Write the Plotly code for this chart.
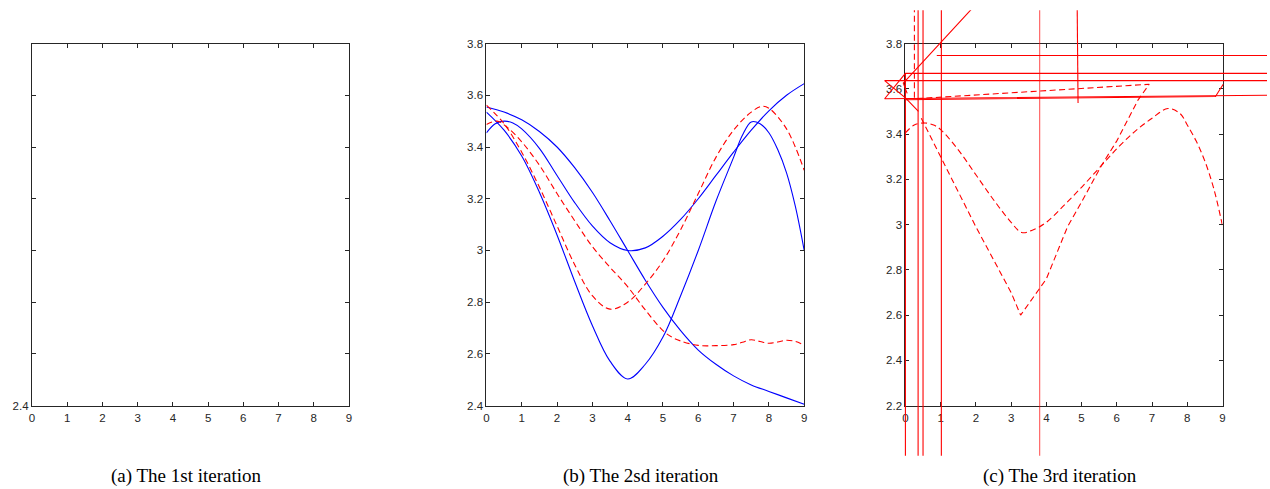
import plotly.graph_objects as go

# ---------------- data ----------------
x_ticks = [0, 1, 2, 3, 4, 5, 6, 7, 8, 9]
a_y_ticks = [2.4, 2.6, 2.8, 3.0, 3.2, 3.4, 3.6, 3.8]
a_y_labels = ["2.4", "", "", "", "", "", "", ""]
b_y_ticks = [2.4, 2.6, 2.8, 3.0, 3.2, 3.4, 3.6, 3.8]
b_y_labels = ["2.4", "2.6", "2.8", "3", "3.2", "3.4", "3.6", "3.8"]
c_y_ticks = [2.2, 2.4, 2.6, 2.8, 3.0, 3.2, 3.4, 3.6, 3.8]
c_y_labels = ["2.2", "2.4", "2.6", "2.8", "3", "3.2", "3.4", "3.6", "3.8"]
captions = ["(a) The 1st iteration", "(b) The 2sd iteration", "(c) The 3rd iteration"]

# panel (b) blue solid curves
b_blue1_x = [0, 0.5, 1, 1.5, 2, 2.5, 3, 3.5, 4, 4.5, 5, 5.5, 6, 6.5, 7, 7.5, 8, 8.5, 9]
b_blue1_y = [3.555, 3.535, 3.505, 3.46, 3.40, 3.32, 3.225, 3.115, 3.00, 2.885, 2.78, 2.69, 2.615, 2.56, 2.515, 2.48, 2.455, 2.43, 2.405]
b_blue2_x = [0, 0.25, 0.5, 0.75, 1, 1.5, 2, 2.5, 3, 3.5, 4, 4.5, 5, 5.5, 6, 6.5, 7, 7.5, 8, 8.5, 9]
b_blue2_y = [3.455, 3.49, 3.50, 3.493, 3.47, 3.395, 3.29, 3.185, 3.095, 3.03, 3.00, 3.01, 3.055, 3.12, 3.20, 3.29, 3.38, 3.465, 3.54, 3.60, 3.645]
b_blue3_x = [0, 0.5, 1, 1.5, 2, 2.5, 3, 3.5, 4, 4.5, 5, 5.5, 6, 6.5, 7, 7.25, 7.5, 7.75, 8, 8.25, 8.5, 8.75, 9]
b_blue3_y = [3.535, 3.465, 3.365, 3.225, 3.06, 2.88, 2.71, 2.572, 2.503, 2.56, 2.665, 2.825, 3.00, 3.19, 3.36, 3.445, 3.497, 3.49, 3.455, 3.39, 3.30, 3.17, 3.00]
# panel (b) red dashed curves
b_red1_x = [0, 0.5, 1, 1.5, 2, 2.5, 3, 3.5, 4, 4.5, 5, 5.5, 6, 6.5, 7, 7.5, 7.8, 8, 8.5, 9]
b_red1_y = [3.562, 3.49, 3.38, 3.245, 3.095, 2.945, 2.825, 2.773, 2.80, 2.87, 2.96, 3.08, 3.22, 3.36, 3.465, 3.535, 3.557, 3.55, 3.47, 3.31]
b_red2_x = [0, 0.3, 0.6, 1, 1.5, 2, 2.5, 3, 3.5, 4, 4.5, 5, 5.25, 5.5, 6, 6.5, 7, 7.25, 7.5, 7.75, 8, 8.25, 8.5, 8.75, 9]
b_red2_y = [3.487, 3.50, 3.475, 3.42, 3.33, 3.22, 3.115, 3.015, 2.935, 2.86, 2.77, 2.69, 2.665, 2.65, 2.633, 2.632, 2.636, 2.645, 2.655, 2.648, 2.641, 2.646, 2.653, 2.648, 2.634]

# panel (c) dashed curves
c_d1_x = [0, 0.25, 0.55, 0.8, 1, 1.5, 2, 2.5, 3, 3.3, 3.6, 4, 4.5, 5, 5.5, 6, 6.5, 7, 7.45, 7.8, 8, 8.25, 8.5, 8.75, 9]
c_d1_y = [3.405, 3.44, 3.449, 3.44, 3.42, 3.33, 3.22, 3.11, 3.01, 2.965, 2.975, 3.01, 3.085, 3.165, 3.25, 3.335, 3.41, 3.47, 3.513, 3.49, 3.44, 3.37, 3.28, 3.16, 2.995]
c_d2_x = [0.45, 1, 2, 3, 3.27, 4, 4.6, 5, 5.56, 6, 6.6, 6.92, 0.255, 0.255]
c_d2_y = [3.47, 3.30, 2.99, 2.70, 2.60, 2.76, 2.99, 3.10, 3.26, 3.37, 3.55, 3.62, 3.556, 4.10]
# panel (c) solid stray segments (None separates segments)
c_s_x = [10.6, 0.89, None,
         10.6, 0, -0.59, 10.6, None,
         10.6, -0.59, 0, 0.37, None,
         0.05, -0.06, 2.1, None,
         0, 8.8, 9.02, None,
         0, 0, None,
         0.36, 0.36, None,
         0.5, 0.5, None,
         1.02, 1.02, None,
         4.87, 4.9]
c_s_y = [3.747, 3.747, None,
         3.668, 3.668, 3.556, 3.572, None,
         3.636, 3.636, 3.56, 3.50, None,
         3.58, 3.625, 3.99, None,
         3.552, 3.566, 3.62, None,
         3.668, 1.90, None,
         4.10, 1.90, None,
         4.10, 1.90, None,
         4.10, 1.90, None,
         4.05, 3.537]
c_v_light_x = [3.81, 3.81]
c_v_light_y = [4.10, 1.90]

# ---------------- layout geometry (page pixels) ----------------
W, H = 1270, 489
# measured vertical mapping of the capture: shown = K * page + B
K, B = 0.9766, 4.7


def py(target):
    return (target - B) / K


TOP, BOT = py(42.3), py(404.8)
panels = [(29.0, 347.7), (485.7, 805.0), (906.7, 1225.3)]
cap_centers = [184.5, 641.5, 1062.0]
cap_py = py(475.0)


def xd(l, r):
    return [l / W, min(1.0, r / W)]


def yd(t, b):
    return [max(0.0, (H - b) / H), min(1.0, (H - t) / H)]


BLUE = "#0000ff"
RED = "#ff0000"
DASH = "6px,3.5px"

fig = go.Figure()

# panel (a): empty axes
fig.add_trace(go.Scatter(x=[None], y=[None], mode="lines", xaxis="x", yaxis="y"))

# panel (b)
for xs, ys in [(b_blue1_x, b_blue1_y), (b_blue2_x, b_blue2_y), (b_blue3_x, b_blue3_y)]:
    fig.add_trace(go.Scatter(x=xs, y=ys, mode="lines", xaxis="x2", yaxis="y2",
                             line=dict(color=BLUE, width=1.1, shape="spline", smoothing=1.0)))
for xs, ys in [(b_red1_x, b_red1_y), (b_red2_x, b_red2_y)]:
    fig.add_trace(go.Scatter(x=xs, y=ys, mode="lines", xaxis="x2", yaxis="y2",
                             line=dict(color=RED, width=1.1, dash=DASH, shape="spline", smoothing=1.0)))

# panel (c) dashed curve on main axes
fig.add_trace(go.Scatter(x=c_d1_x, y=c_d1_y, mode="lines", xaxis="x3", yaxis="y3",
                         line=dict(color=RED, width=1.1, dash=DASH, shape="spline", smoothing=1.0)))

# overlay axes for panel (c) strays, same scale but larger clip area
cl, cr = panels[2]
ox_l, ox_r = 880.0, float(W)
oy_t, oy_b = py(9.0), py(455.0)
ppx = (cr - cl) / 9.0
ppy = (BOT - TOP) / 1.6
ox_range = [0 - (cl - ox_l) / ppx, 9 + (ox_r - cr) / ppx]
oy_range = [2.2 - (oy_b - BOT) / ppy, 3.8 + (TOP - oy_t) / ppy]

fig.add_trace(go.Scatter(x=c_v_light_x, y=c_v_light_y, mode="lines", xaxis="x4", yaxis="y4",
                         line=dict(color="rgba(255,0,0,0.6)", width=1.2)))
fig.add_trace(go.Scatter(x=c_s_x, y=c_s_y, mode="lines", xaxis="x4", yaxis="y4",
                         connectgaps=False, line=dict(color=RED, width=1.1)))
fig.add_trace(go.Scatter(x=c_d2_x, y=c_d2_y, mode="lines", xaxis="x4", yaxis="y4",
                         line=dict(color=RED, width=1.1, dash=DASH)))

AXC = "#262626"
tickfont = dict(family="Liberation Sans Narrow, Liberation Sans, Arial", size=11.5, color=AXC)


def xax(dom, anchor):
    return dict(domain=dom, anchor=anchor, range=[0, 9], tickvals=x_ticks,
                ticktext=[str(v) for v in x_ticks], ticks="inside", ticklen=4,
                tickcolor=AXC, showline=True, linecolor=AXC, linewidth=1,
                mirror="ticks", showgrid=False, zeroline=False, tickfont=tickfont,
                ticklabelstandoff=2)


def yax(dom, anchor, rng, vals, labels):
    return dict(domain=dom, anchor=anchor, range=rng, tickvals=vals, ticktext=labels,
                ticks="inside", ticklen=4, tickcolor=AXC, showline=True, linecolor=AXC,
                linewidth=1, mirror="ticks", showgrid=False, zeroline=False, tickfont=tickfont)


yd_main = yd(TOP, BOT)
fig.update_layout(
    width=W, height=H, margin=dict(l=0, r=0, t=0, b=0),
    paper_bgcolor="white", plot_bgcolor="rgba(0,0,0,0)", showlegend=False,
    xaxis=xax(xd(*panels[0]), "y"),
    yaxis=yax(yd_main, "x", [2.4, 3.8], a_y_ticks, a_y_labels),
    xaxis2=xax(xd(*panels[1]), "y2"),
    yaxis2=yax(yd_main, "x2", [2.4, 3.8], b_y_ticks, b_y_labels),
    xaxis3=xax(xd(*panels[2]), "y3"),
    yaxis3=yax(yd_main, "x3", [2.2, 3.8], c_y_ticks, c_y_labels),
    xaxis4=dict(domain=xd(ox_l, ox_r), anchor="y4", range=ox_range, visible=False,
                showgrid=False, zeroline=False),
    yaxis4=dict(domain=yd(oy_t, oy_b), anchor="x4", range=oy_range, visible=False,
                showgrid=False, zeroline=False),
)

for cx, txt in zip(cap_centers, captions):
    fig.add_annotation(x=cx / W, y=(H - cap_py) / H, xref="paper", yref="paper",
                       text=txt, showarrow=False, xanchor="center", yanchor="middle",
                       font=dict(family="Liberation Serif, Times New Roman, serif", size=19, color="black"))

page_fix = ("document.documentElement.style.margin='0';document.documentElement.style.padding='0';"
            "document.body.style.margin='0';document.body.style.padding='0';"
            "document.documentElement.style.overflow='hidden';document.body.style.overflow='hidden';")

fig.write_html("out.html", post_script=page_fix, config={"displayModeBar": False})
